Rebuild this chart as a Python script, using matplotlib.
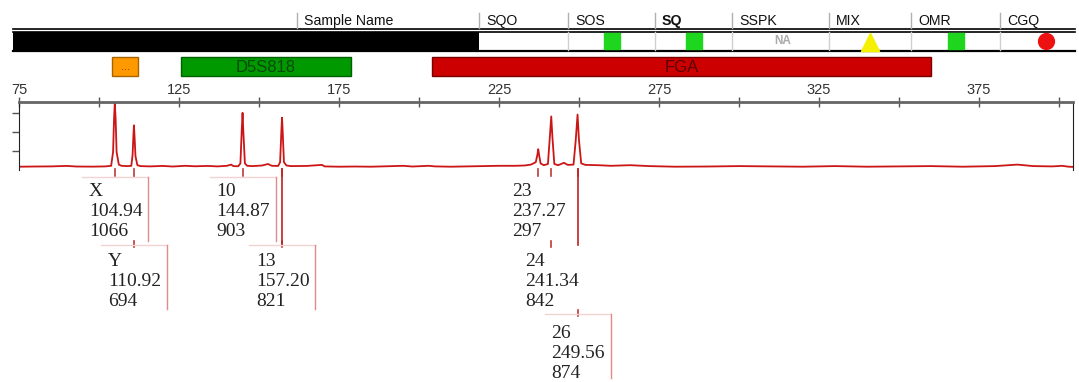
import matplotlib
matplotlib.use('Agg')  # no display

import matplotlib.pyplot as plt
from matplotlib.patches import Rectangle

# quality header
columns = ['Sample Name', 'SQO', 'SOS', 'SQ', 'SSPK', 'MIX', 'OMR', 'CGQ']
flags = ['', '', 'pass', 'pass', 'NA', 'check', 'pass', 'fail']

# locus bins (bp)
loci = ['...', 'D5S818', 'FGA']
locus_start = [104.1, 125.6, 204.1]
locus_end = [112.2, 178.8, 360.0]
locus_color = ['#ff9900', '#009a00', '#cc0000']
locus_edge = ['#a86400', '#006000', '#7a0000']
locus_text = ['#9a3000', '#0b4a0b', '#5a0000']

# called peaks
alleles = ['X', 'Y', '10', '13', '23', '24', '26']
sizes = [104.94, 110.92, 144.87, 157.20, 237.27, 241.34, 249.56]
heights = [1066, 694, 903, 821, 297, 842, 874]

# electropherogram trace (bp, rfu)
trace_bp = [75, 80, 85, 90, 93, 98, 102, 103.8, 104.4, 104.7, 104.94, 105.2, 105.5, 106.2,
            107, 109, 110.1, 110.5, 110.75, 110.92, 111.1, 111.4, 112, 113, 116, 120, 123,
            127, 130, 134, 137, 140, 141.3, 142, 143.5, 144.2, 144.6, 144.87, 145.1, 145.6,
            146.3, 148, 151, 152.8, 154, 156, 156.6, 157.0, 157.20, 157.4, 157.8, 158.6, 160,
            165, 169.7, 170.5, 175, 180, 185, 190, 195, 198, 203, 205, 210, 215, 220, 225,
            230, 233, 235, 236.5, 237.0, 237.27, 237.55, 238.0, 239, 240.3, 240.9, 241.34,
            241.7, 242.3, 243.5, 245.3, 246.5, 248.3, 249.0, 249.56, 250.0, 250.7, 252, 256,
            260, 266, 272, 280, 290, 300, 310, 320, 330, 340, 350, 360, 370, 380, 387, 392,
            398, 401, 403, 404.4]
trace_rfu = [5, 8, 10, 18, 8, 6, 10, 20, 250, 800, 1066, 800, 250, 40,
             20, 15, 20, 200, 520, 694, 520, 180, 30, 15, 10, 18, 8,
             20, 12, 18, 10, 20, 40, 15, 12, 60, 600, 903, 600, 60,
             20, 15, 25, 50, 20, 18, 80, 600, 821, 600, 80, 25, 15,
             18, 35, 10, 5, 8, 5, 12, 20, 8, 20, 10, 5, 10, 15, 20,
             20, 25, 40, 80, 200, 297, 200, 60, 30, 50, 500, 842,
             500, 50, 30, 70, 35, 40, 450, 874, 450, 60, 35, 30,
             20, 30, 15, 5, 8, 15, 10, 5, 15, 5, 10, 15, 5, 15, 40, 15,
             10, 20, 5, 2]

W, H = 1079, 382
xmin, xmax = 75, 404.4
ax_left, ax_right = 19, 1073
ppb = (ax_right - ax_left) / (xmax - xmin)  # pixels per bp

plt.rcParams['font.family'] = ['Liberation Sans', 'DejaVu Sans']

fig = plt.figure(figsize=(W / 100, H / 100), dpi=100)

# header table drawn in pixel units
top = fig.add_axes([0, 0, 1, 1])
top.set_xlim(0, W)
top.set_ylim(H, 0)
top.axis('off')

col_x = [297, 479, 568, 655, 732, 829, 911, 1000, 1092]
top.plot([13, 1075], [28.5, 28.5], color='black', lw=1.2)
top.plot([13, 1075], [31.5, 31.5], color='black', lw=1.2)
top.plot([13, 1075], [50.5, 50.5], color='black', lw=1.6)
top.add_patch(Rectangle((13, 32), col_x[1] - 13, 18, facecolor='black', edgecolor='none'))

for i, name in enumerate(columns):
    x0 = col_x[i]
    top.plot([x0, x0], [13, 28], color='#b0b0b0', lw=1)
    weight = 'bold' if name == 'SQ' else 'normal'
    top.text(x0 + 7, 21, name, fontsize=10.2, fontweight=weight, color='#111',
             ha='left', va='center')
    if i >= 2:
        top.plot([x0, x0], [32, 50], color='#d0d0d0', lw=1)
    cx = (col_x[i] + col_x[i + 1]) / 2
    f = flags[i]
    if f == 'pass':
        top.scatter([cx], [41], marker='s', s=118, color='#1fd61f', zorder=3)
    elif f == 'check':
        top.scatter([cx], [42], marker='^', s=170, color='#f4f000', zorder=3)
    elif f == 'fail':
        top.scatter([cx], [41], marker='o', s=130, color='#ee1111', zorder=3)
    elif f == 'NA':
        top.text(cx + 2, 41, 'NA', fontsize=8.5, color='#aaaaaa', ha='center', va='center',
                 fontweight='bold')

# locus bars
loc = fig.add_axes([ax_left / W, 1 - 76 / H, (ax_right - ax_left) / W, 19 / H])
loc.set_xlim(xmin, xmax)
loc.set_ylim(0, 1)
loc.axis('off')
for name, a, b, fc, ec, tc in zip(loci, locus_start, locus_end, locus_color, locus_edge, locus_text):
    loc.add_patch(Rectangle((a, 0), b - a, 1, facecolor=fc, edgecolor=ec, lw=1, clip_on=False))
    fs = 8 if name == '...' else 12
    loc.text((a + b) / 2, 0.45, name, fontsize=fs, color=tc, ha='center', va='center')

# main trace
ax = fig.add_axes([ax_left / W, 1 - 170 / H, (ax_right - ax_left) / W, 68 / H])
ax.plot(trace_bp, trace_rfu, color='#cc1515', lw=1.3, solid_joinstyle='round')
ax.set_xlim(xmin, xmax)
ax.set_ylim(-50, 1083)
ax.xaxis.tick_top()
ax.set_xticks(range(75, 401, 50))
ax.set_xticks(range(100, 401, 50), minor=True)
ax.tick_params(axis='x', which='both', direction='inout', length=7, width=1, color='#555',
               labelsize=10.5, labelcolor='#333', pad=0)
ax.set_yticks([265, 580, 900])
ax.tick_params(axis='y', direction='out', length=5, width=1, color='#555', labelleft=False)
ax.spines['top'].set_color('#666')
ax.spines['top'].set_linewidth(2)
ax.spines['left'].set_color('#222')
ax.spines['right'].set_color('#222')
ax.spines['bottom'].set_visible(False)

# peak labels below the trace
ann = fig.add_axes([ax_left / W, 0, (ax_right - ax_left) / W, (H - 168) / H])
ann.set_xlim(xmin, xmax)
ann.set_ylim(H, 168)
ann.axis('off')

rows = [0, 1, 0, 1, 0, 1, 2]
row_top = [177, 245, 314]
row_text = [191, 262, 333]
boxed = ['X', 'Y', '10', '13', '26']
long_lead = ['13', '26']

for al, s, h, r in zip(alleles, sizes, heights, rows):
    ann.plot([s, s], [169, 176], color='#c03a3a', lw=1.2)
    if r > 0:
        ann.plot([s, s], [row_top[r] - 4, row_top[r] + 2], color='#c03a3a', lw=1.2)
    if al in long_lead:
        ann.plot([s, s], [169, 245], color='#c02020', lw=1.2)
    if al in boxed:
        bx = s + 33 / ppb
        ann.plot([s - 33 / ppb, bx], [row_top[r], row_top[r]], color='#f3d2d2', lw=1)
        ann.plot([bx, bx], [row_top[r], row_top[r] + 64], color='#e08a8a', lw=1)
    for k, t in enumerate([al, '%.2f' % s, str(h)]):
        ann.text(s - 26 / ppb, row_text[r] + 20 * k, t, fontsize=14, color='#222',
                 family='Liberation Serif', ha='left', va='center')

fig.savefig('out.png', dpi=100)
